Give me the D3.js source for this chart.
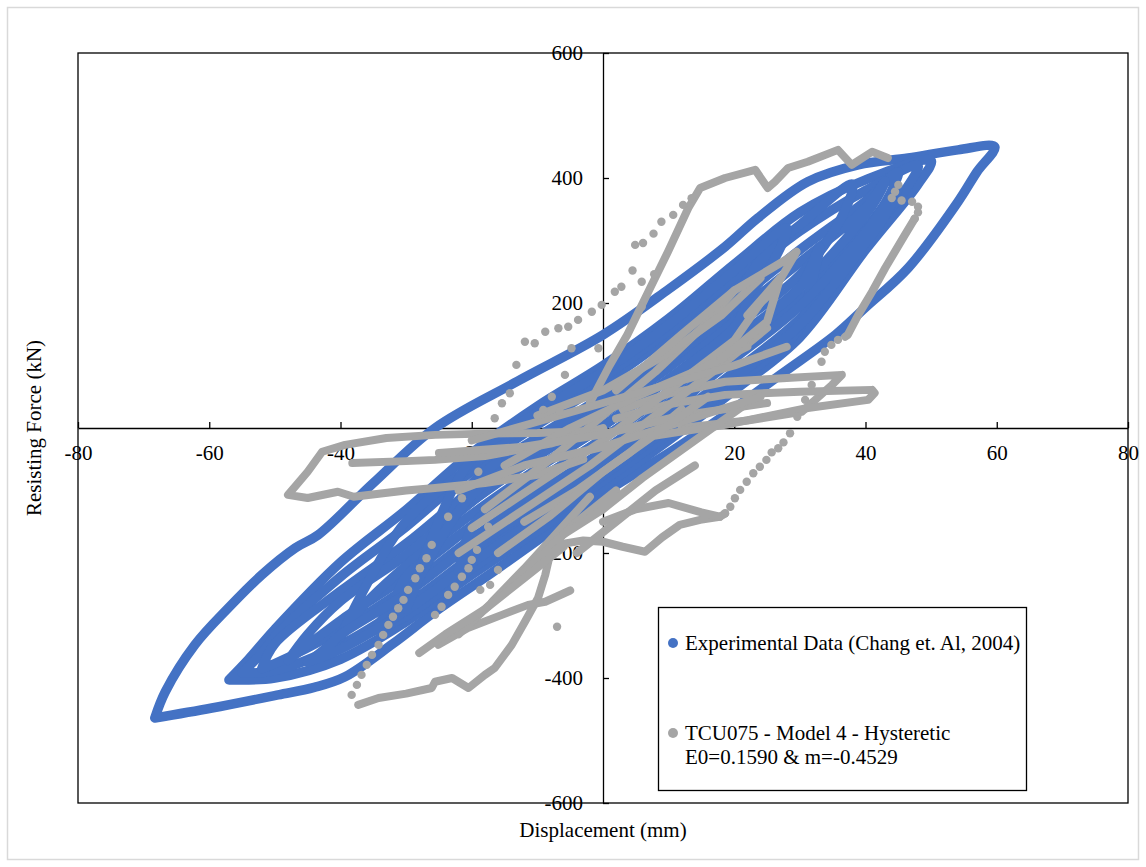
<!DOCTYPE html>
<html><head><meta charset="utf-8">
<script src="https://cdn.jsdelivr.net/npm/d3@7"></script>
<style>body{margin:0;background:#fff}svg{display:block}text{font-family:"Liberation Serif","Times New Roman",serif;fill:#000}</style>
</head><body><svg id="c" width="1146" height="867"></svg>
<script>
const xTicks=[-80,-60,-40,-20,0,20,40,60,80];
const yTicks=[-600,-400,-200,0,200,400,600];
const seriesNames=["Experimental Data (Chang et. Al, 2004)","TCU075 - Model 4 - Hysteretic","E0=0.1590 & m=-0.4529"];

// Experimental data (displacement mm, force kN), traced loops
const expOuter=[[-68.3,-464],[-66.7,-422],[-62.2,-347],[-57.1,-288],[-52,-235],[-46.9,-192],[-43.4,-171],[-35,-88],[-25.6,0],[-13,75],[0,149],[10,222],[18.6,290],[23.6,336],[31.2,394],[38.9,421],[46.5,432],[54.1,445],[59.7,450],[57,410],[54.1,362],[46.5,256],[39.9,192],[35.4,149],[27,85],[18.6,21],[10,-40],[0,-105],[-8.8,-171],[-17,-232],[-25.6,-294],[-32,-345],[-39.3,-398],[-44,-415],[-49.5,-427],[-59.6,-448],[-68.3,-464]];
const expLoopA=[[-57,-403],[-54,-370],[-50,-322],[-40,-215],[-30,-131],[-20,-40],[-10,35],[0,100],[10,175],[20,262],[30,345],[40,397],[50,428],[48,390],[40,285],[30,145],[20,60],[10,-20],[0,-95],[-10,-165],[-20,-235],[-30,-310],[-40,-370],[-50,-400],[-57,-403]];
const expLoopB=[[-55,-392],[-52,-360],[-50,-334],[-40,-238],[-30,-158],[-20,-69],[-10,5],[0,71],[10,146],[20,232],[30,315],[40,380],[48,420],[46,380],[40,302],[30,175],[20,90],[10,9],[0,-66],[-10,-135],[-20,-206],[-30,-283],[-40,-347],[-50,-388],[-55,-392]];
const expLoopC=[[-52,-385],[-50,-345],[-40,-261],[-30,-185],[-20,-99],[-10,-25],[0,42],[10,117],[20,201],[30,285],[40,363],[45,410],[43,360],[40,319],[30,205],[20,121],[10,39],[0,-37],[-10,-105],[-20,-177],[-30,-256],[-40,-323],[-50,-377],[-52,-385]];
const expLoopD=[[-48,-372],[-45,-330],[-40,-277],[-30,-203],[-20,-118],[-10,-45],[0,22],[10,97],[20,181],[30,265],[40,352],[43,395],[41,355],[30,225],[20,141],[10,58],[0,-17],[-10,-85],[-20,-157],[-30,-238],[-40,-308],[-48,-372]];
const expLoopE=[[-40,-335],[-37,-270],[-30,-149],[-20,-60],[-10,15],[0,81],[10,156],[20,242],[30,325],[38,390],[36,330],[30,245],[20,161],[10,78],[0,3],[-10,-65],[-20,-138],[-30,-220],[-37,-290],[-40,-335]];
const expLoopF=[[-35,-325],[-32,-280],[-30,-238],[-20,-157],[-10,-85],[0,-17],[10,58],[20,141],[30,225],[33,290],[31,200],[30,160],[20,70],[10,-10],[0,-85],[-10,-155],[-20,-225],[-30,-301],[-35,-325]];
const expLoopG=[[-28,-245],[-25,-180],[-20,-89],[-10,-15],[0,51],[10,126],[20,212],[26,300],[24,250],[20,181],[10,97],[0,22],[-10,-45],[-20,-118],[-25,-170],[-28,-245]];
const expLoopH=[[-45,-375],[-42,-350],[-40,-331],[-30,-265],[-20,-186],[-10,-115],[0,-46],[10,29],[20,111],[30,195],[40,313],[45,385],[43,340],[40,296],[30,165],[20,80],[10,0],[0,-76],[-10,-145],[-20,-216],[-30,-292],[-40,-354],[-45,-375]];
const expLoopI=[[-30,-290],[-27,-200],[-20,-50],[-10,25],[0,90],[10,165],[20,252],[28,320],[25,250],[20,191],[10,107],[0,32],[-10,-35],[-20,-108],[-27,-220],[-30,-290]];
const expLoopJ=[[-22,-230],[-20,-160],[-10,-65],[0,3],[10,78],[20,161],[22,200],[20,140],[10,19],[0,-56],[-10,-125],[-20,-196],[-22,-230]];

// Simulation (gray) - dense strands
const simLobeLeft=[[-3,-5],[-10,-8],[-18,-9],[-25.6,-11],[-33,-16],[-39.3,-27],[-42.8,-38],[-45,-70],[-48,-107],[-45,-112],[-40.4,-102],[-38,-110],[-30,-100],[-25.6,-96],[-18,-88],[-10,-75],[-3,-50]];
const simLobeLeftInner=[[-38.2,-56],[-30,-53],[-25.6,-51],[-18,-45],[-8,-25],[0,0]];
const simLobeRightA=[[3,30],[10,55],[18.6,74],[28,80],[36.4,85],[34.9,69],[30.3,26],[22,12],[12,0]];
const simLobeRightB=[[2,15],[10,38],[18.6,53],[30,58],[41,61],[41.4,56],[40.4,45],[31.2,32],[18.6,5],[8,-12]];
const simTopArm=[[-2,40],[1,100],[3.7,149],[7,220],[9.9,282],[13,352],[14.8,384],[18.6,400],[23.2,413],[25.1,384],[26.2,394],[28.2,416],[31.2,426],[35.8,445],[37.9,421],[41,442],[43.4,432]];
const simDescend=[[47.5,335],[46,309],[43,256],[41,218],[38.9,181],[37.3,149],[36.9,146]];
const simLowLeftOutline=[[-5,-150],[-8.1,-203],[-8.8,-235],[-9.9,-272],[-11.9,-310],[-13.9,-347],[-16.5,-384],[-18,-395],[-20.5,-416],[-23,-400],[-25.6,-406],[-26.1,-416],[-30,-425],[-34.2,-432],[-37.3,-443]];
const simLowLeftMid=[[-25.1,-347],[-20.6,-320],[-15.4,-299],[-11.4,-283],[-8.8,-278],[-5,-260]];
const simLowDiag=[[-16.9,-278],[-12,-225],[-7.3,-171],[-2,-110]];
const simLowD2=[[-22,-330],[-15,-260],[-9,-200],[-4,-150],[2,-100]];
const simLowD3=[[-28,-360],[-24,-330],[-18,-290],[-12,-240],[-6,-190]];
const simLowRight=[[-8.1,-203],[-6,-185],[-3,-180],[0,-182],[3,-190],[6.4,-198],[9,-175],[11.7,-155],[14.8,-147],[17.8,-142],[18.6,-137]];
const simLowRightIn=[[0,-150],[5,-130],[10,-120],[15,-135],[17.8,-142]];
const simC1=[[-20,-160],[-10,-90],[0,-20],[10,60],[20,140],[24,200]];
const simC2=[[-18,-130],[-8,-50],[0,20],[8,90],[15,160],[20,220]];
const simC3=[[-22,-200],[-12,-130],[-2,-60],[8,20],[18,100],[25,160]];
const simC4=[[-15,-60],[-5,0],[5,50],[15,95],[22,130]];
const simC5=[[-25,-40],[-12,-30],[0,-10],[12,20],[25,40]];
const simC6=[[-12,-150],[-4,-100],[4,-40],[12,30]];
const simC7=[[-6,-170],[0,-130],[6,-80],[14,-20],[22,40]];
const simC8=[[-20,-20],[-10,10],[0,40],[10,70],[20,100],[28,130]];
const simC9=[[-22,-100],[-12,-60],[0,-30],[12,10],[24,50]];
const simC10=[[-10,20],[0,60],[10,120],[18,180],[24,240]];
const simC11=[[-16,-200],[-8,-140],[0,-70],[8,-10],[16,50]];
const simC12=[[-4,-200],[2,-150],[8,-100],[14,-60]];
const simSpike=[[2,60],[12,150],[20,220],[28,270],[29.5,282],[26,220],[22,180],[27,240],[25,170],[18,110]];
// Simulation (gray) - separate visible points
const simTopDots=[[45,389],[44.5,378],[44,368],[45.5,364],[47.1,362],[48,354],[48,345],[47.5,335]];
const simDescendDots=[[35.8,141],[34.8,133],[33.8,122],[33.3,106],[31.8,69],[30.8,45],[29.6,18],[28.5,-8.5],[27.5,-23],[26.7,-32.5],[25.7,-39],[24.9,-51],[23.9,-62],[22.9,-72.5],[21.9,-86],[20.9,-99],[20.1,-112.5],[19.4,-126],[18.6,-136.5]];
const simArmDots=[[-16.5,15.5],[-15.4,39.5],[-14.2,55.5],[-13.2,101],[-11.9,138],[-10.4,135.5],[-8.8,154],[-6.8,159.5],[-5.3,162],[-3.8,173],[-1.7,186],[-0.2,197],[1.8,218],[2.8,226],[4.5,252],[4.9,293],[6.1,296],[7.7,311],[8.9,330],[10.7,341],[12.2,357],[13.5,367.5],[-4.8,127.5],[-0.7,127.5],[-5.8,85],[-7.8,50],[-9.1,29],[-6.6,26],[5.9,234],[7.8,246],[5.9,194]];
const simLowLeftDots1=[[-26.1,-187],[-26.9,-208.5],[-27.9,-224.5],[-28.6,-240.5],[-29.7,-259],[-30.4,-275],[-31.2,-288.5],[-32,-302],[-32.7,-315],[-33.5,-331],[-34.2,-347],[-35.2,-363],[-36,-379],[-36.8,-395],[-37.5,-411],[-38.3,-427]];
const simLowLeftDots2=[[-25.6,-299],[-24.6,-286],[-23.6,-267],[-22.6,-254],[-21.5,-238],[-20.5,-224.5],[-20,-211],[-19.2,-195],[-18.7,-259],[-17.2,-251],[-16,-227],[-7,-318],[-19,-70],[-21.5,-112.5],[-23.6,-142],[-17.5,-158]];

const expLoops=[expOuter,expLoopA,expLoopB,expLoopC,expLoopD,expLoopE,expLoopF,expLoopG,expLoopH,expLoopI,expLoopJ];
const simStrands=[simLobeLeft,simLobeLeftInner,simLobeRightA,simLobeRightB,simTopArm,simDescend,simLowLeftOutline,simLowLeftMid,simLowDiag,simLowD2,simLowD3,simLowRight,simLowRightIn,simC1,simC2,simC3,simC4,simC5,simC6,simC7,simC8,simC9,simC10,simC11,simC12,simSpike];
const simPoints=[].concat(simTopDots,simDescendDots,simArmDots,simLowLeftDots1,simLowLeftDots2);

const BLUE="#4472C4", GRAY="#A5A5A5";
const FS=21;
const svg=d3.select("#c");
svg.append("rect").attr("x",7.5).attr("y",7.5).attr("width",1131).attr("height",852).attr("fill","#fff").attr("stroke","#d9d9d9").attr("stroke-width",1.5);

const x=d3.scaleLinear().domain([-80,80]).range([78,1128]);
const y=d3.scaleLinear().domain([-600,600]).range([803,53]);

svg.append("rect").attr("x",x(-80)).attr("y",y(600)).attr("width",x(80)-x(-80)).attr("height",y(-600)-y(600)).attr("fill","none").attr("stroke","#000").attr("stroke-width",1.3);

const lineSmooth=d3.line().x(d=>x(d[0])).y(d=>y(d[1])).curve(d3.curveCatmullRom.alpha(0.5));
const lineStraight=d3.line().x(d=>x(d[0])).y(d=>y(d[1]));

const gx=svg.append("g").attr("transform",`translate(0,${y(0)})`)
 .call(d3.axisBottom(x).tickValues(xTicks).tickSizeInner(-6).tickSizeOuter(0).tickPadding(17));
const gy=svg.append("g").attr("transform",`translate(${x(0)},0)`)
 .call(d3.axisLeft(y).tickValues(yTicks).tickSizeInner(-6).tickSizeOuter(0).tickPadding(20));
[gx,gy].forEach(g=>{g.selectAll("path,line").attr("stroke","#000").attr("stroke-width",1.3);
 g.selectAll("text").attr("font-family","Liberation Serif, Times New Roman, serif").attr("font-size",FS).attr("fill","#000").text(d=>String(d));});

svg.append("g").selectAll("path").data(expLoops).join("path")
 .attr("d",lineSmooth).attr("fill","none").attr("stroke",BLUE).attr("stroke-width",9.5)
 .attr("stroke-linejoin","round").attr("stroke-linecap","round");
const gs=svg.append("g");
gs.selectAll("path").data(simStrands).join("path")
 .attr("d",lineStraight).attr("fill","none").attr("stroke",GRAY).attr("stroke-width",8)
 .attr("stroke-linejoin","round").attr("stroke-linecap","round");
gs.selectAll("circle").data(simPoints).join("circle")
 .attr("cx",d=>x(d[0])).attr("cy",d=>y(d[1])).attr("r",4.2).attr("fill",GRAY);

svg.append("text").attr("x",603).attr("y",837).attr("text-anchor","middle").attr("font-size",FS).text("Displacement (mm)");
svg.append("text").attr("transform","translate(41,428) rotate(-90)").attr("text-anchor","middle").attr("font-size",FS).text("Resisting Force (kN)");

const lg=svg.append("g");
lg.append("rect").attr("x",658.5).attr("y",607.5).attr("width",368).attr("height",183).attr("fill","#fff").attr("stroke","#000").attr("stroke-width",1.3);
lg.append("circle").attr("cx",673).attr("cy",643).attr("r",5).attr("fill",BLUE);
lg.append("text").attr("x",685).attr("y",650).attr("font-size",FS).text(seriesNames[0]);
lg.append("circle").attr("cx",673).attr("cy",733).attr("r",5).attr("fill",GRAY);
lg.append("text").attr("x",685).attr("y",740).attr("font-size",FS).text(seriesNames[1]);
lg.append("text").attr("x",685).attr("y",764).attr("font-size",FS).text(seriesNames[2]);
</script></body></html>
